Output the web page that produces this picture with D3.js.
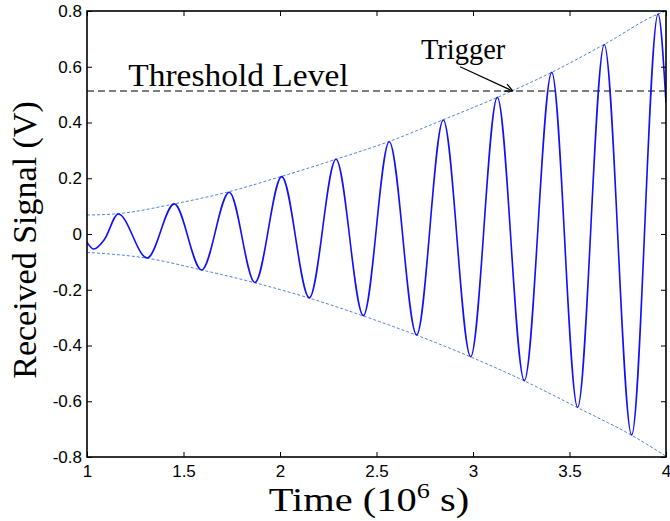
<!DOCTYPE html>
<html>
<head>
<meta charset="utf-8">
<script src="https://cdn.jsdelivr.net/npm/d3@7"></script>
<style>
  body { margin: 0; background: #fff; }
  svg { display: block; }
  .serif { font-family: "Liberation Serif", "Times New Roman", Times, serif; }
  .axis text { font-family: "Liberation Sans", Arial, Helvetica, sans-serif; font-size: 17px; fill: #000; }
</style>
</head>
<body>
<svg width="670" height="521"></svg>
<script>
// signal extrema (time in 10^6 s, volts)
var sigT = [1.0, 1.035, 1.09, 1.162, 1.312, 1.452, 1.594, 1.737, 1.870, 2.009, 2.152, 2.290, 2.432,
            2.566, 2.708, 2.846, 2.988, 3.126, 3.266, 3.408, 3.542, 3.680, 3.822, 3.959, 4.0]
var sigV = [-0.03, -0.054, -0.02, 0.072, -0.086, 0.108, -0.129, 0.150, -0.174, 0.206, -0.229, 0.268, -0.293,
            0.331, -0.362, 0.409, -0.440, 0.490, -0.526, 0.580, -0.622, 0.680, -0.721, 0.789, 0.47]

// dotted envelopes
var upT = [1.0, 1.162, 1.452, 1.737, 2.009, 2.290, 2.566, 2.846, 3.126, 3.408, 3.680, 3.959, 4.0]
var upV = [0.068, 0.073, 0.108, 0.152, 0.207, 0.268, 0.332, 0.410, 0.490, 0.580, 0.680, 0.789, 0.80]
var loT = [1.0, 1.312, 1.594, 1.870, 2.152, 2.432, 2.708, 2.988, 3.266, 3.542, 3.822, 4.0]
var loV = [-0.066, -0.087, -0.129, -0.175, -0.230, -0.294, -0.363, -0.441, -0.527, -0.623, -0.722, -0.797]

var threshold = 0.513
var xTicks = [1, 1.5, 2, 2.5, 3, 3.5, 4]
var yTicks = [-0.8, -0.6, -0.4, -0.2, 0, 0.2, 0.4, 0.6, 0.8]

var svg = d3.select("svg")
var margin = {left: 87, top: 11, right: 4, bottom: 64}
var W = 670 - margin.left - margin.right
var H = 521 - margin.top - margin.bottom

var g = svg.append("g").attr("transform", "translate(" + margin.left + "," + margin.top + ")")

var x = d3.scaleLinear().domain([1, 4]).range([0, W])
var y = d3.scaleLinear().domain([-0.8, 0.8]).range([H, 0])

var clip = g.append("clipPath").attr("id", "plotclip")
clip.append("rect").attr("width", W).attr("height", H)

var plot = g.append("g").attr("clip-path", "url(#plotclip)")

var line = d3.line().x(d => x(d[0])).y(d => y(d[1])).curve(d3.curveMonotoneX)

// envelopes
plot.append("path")
  .attr("d", line(d3.zip(upT, upV)))
  .attr("fill", "none").attr("stroke", "#4f86d9").attr("stroke-width", 1)
  .attr("stroke-dasharray", "3,2")
plot.append("path")
  .attr("d", line(d3.zip(loT, loV)))
  .attr("fill", "none").attr("stroke", "#4f86d9").attr("stroke-width", 1)
  .attr("stroke-dasharray", "3,2")

// threshold
plot.append("line")
  .attr("x1", x(1)).attr("x2", x(4))
  .attr("y1", y(threshold)).attr("y2", y(threshold))
  .attr("stroke", "#000").attr("stroke-width", 1.2)
  .attr("stroke-dasharray", "7,4")

// signal
plot.append("path")
  .attr("d", line(d3.zip(sigT, sigV)))
  .attr("fill", "none").attr("stroke", "#1010ff").attr("stroke-width", 1.6)

// axes, ticks pointing inward on all sides
var fmt = d => String(d)
g.append("g").attr("class", "axis").attr("transform", "translate(0," + H + ")")
  .call(d3.axisBottom(x).tickValues(xTicks).tickFormat(fmt).tickSize(-5).tickPadding(8))
g.append("g").attr("class", "axis")
  .call(d3.axisLeft(y).tickValues(yTicks).tickFormat(fmt).tickSize(-5).tickPadding(5))
g.append("g").attr("class", "axis")
  .call(d3.axisTop(x).tickValues(xTicks).tickFormat("").tickSize(-5))
g.append("g").attr("class", "axis").attr("transform", "translate(" + W + ",0)")
  .call(d3.axisRight(y).tickValues(yTicks).tickFormat("").tickSize(-5))

svg.selectAll(".axis .domain").remove()
svg.selectAll(".axis text").attr("font-family", null).attr("font-size", null)
svg.selectAll(".axis line").attr("stroke", "#000").attr("stroke-width", 1)

g.append("rect").attr("width", W).attr("height", H)
  .attr("fill", "none").attr("stroke", "#000").attr("stroke-width", 1.6)

// annotations (the source picture is a little stretched sideways)
g.append("text").attr("class", "serif")
  .attr("transform", "translate(" + x(1.214) + "," + y(0.531) + ") scale(1.08,1)")
  .style("font-size", "31px")
  .text("Threshold Level")

g.append("text").attr("class", "serif")
  .attr("transform", "translate(" + x(2.73) + "," + y(0.628) + ") scale(0.95,1)")
  .style("font-size", "30px")
  .text("Trigger")

var tip = [x(3.206), y(threshold)]
var tail = [x(2.933), y(0.600)]
g.append("line")
  .attr("x1", tail[0]).attr("y1", tail[1]).attr("x2", tip[0]).attr("y2", tip[1])
  .attr("stroke", "#000").attr("stroke-width", 1.2)
var ang = Math.atan2(tip[1] - tail[1], tip[0] - tail[0])
;[-0.45, 0.45].forEach(a => {
  g.append("line")
    .attr("x1", tip[0]).attr("y1", tip[1])
    .attr("x2", tip[0] - 9 * Math.cos(ang + a)).attr("y2", tip[1] - 9 * Math.sin(ang + a))
    .attr("stroke", "#000").attr("stroke-width", 1.2)
})

// axis titles
var xt = svg.append("text").attr("class", "serif")
  .attr("transform", "translate(369,511) scale(1.19,1)")
  .attr("text-anchor", "middle")
  .style("font-size", "34px")
xt.append("tspan").text("Time (10")
xt.append("tspan").attr("dy", -13).style("font-size", "22px").text("6")
xt.append("tspan").attr("dy", 13).text(" s)")

svg.append("text").attr("class", "serif")
  .attr("transform", "translate(36," + (margin.top + H / 2 + 6) + ") rotate(-90)")
  .attr("text-anchor", "middle")
  .style("font-size", "34px")
  .text("Received Signal (V)")
</script>
</body>
</html>
